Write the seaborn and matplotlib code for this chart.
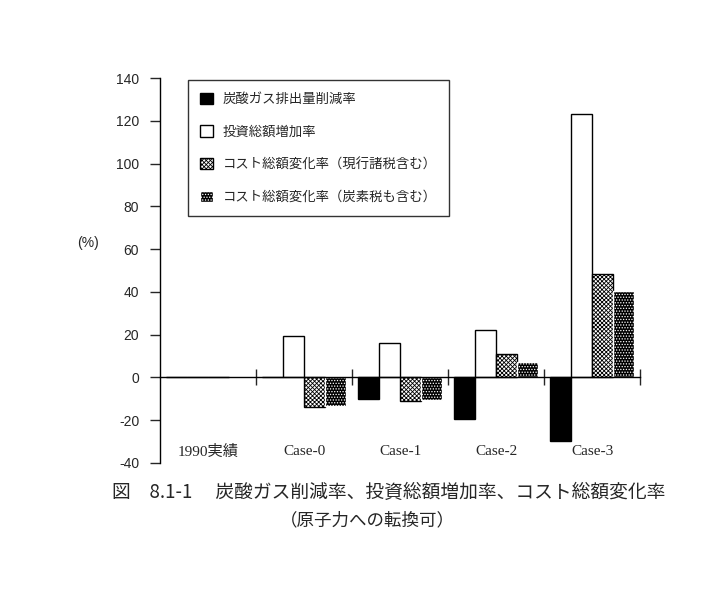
import matplotlib
matplotlib.use("Agg")
import pandas as pd
import seaborn as sns
import matplotlib.pyplot as plt
from matplotlib.patches import Patch

cases = ['1990実績', 'Case-0', 'Case-1', 'Case-2', 'Case-3']
series = ['炭酸ガス排出量削減率', '投資総額増加率',
          'コスト総額変化率（現行諸税含む）', 'コスト総額変化率（炭素税も含む）']
co2 = [0, 0, -10.3, -19.5, -29.8]
invest = [0, 19.6, 15.9, 22.0, 123.4]
cost_now = [0, -14.0, -11.0, 10.8, 48.2]
cost_carbon = [0, -13.5, -10.6, 7.0, 40.2]

value = []
label = []
case = []
for name, vals in zip(series, [co2, invest, cost_now, cost_carbon]):
    for c, v in zip(cases, vals):
        value.append(v)
        label.append(name)
        case.append(c)
data = pd.DataFrame({'case': case, 'label': label, 'value': value})

sns.set_style('white')
plt.rcParams['font.family'] = ['Noto Sans CJK JP', 'DejaVu Sans']
plt.rcParams['hatch.linewidth'] = 0.6
plt.rcParams['axes.unicode_minus'] = False

fig = plt.figure(figsize=(7.23, 5.91), dpi=100)
ax = fig.add_axes([160 / 723, 128 / 591, 480 / 723, 385 / 591])

bars = sns.barplot(data=data, x='case', y='value', hue='label', order=cases,
                   hue_order=series, width=0.88, gap=0, ax=ax,
                   palette=['black', 'white', 'white', 'black'],
                   edgecolor='black', linewidth=1, legend=False)

styles = [('black', 'black', ''), ('white', 'black', ''),
          ('white', 'black', 'xxxxxxxx'), ('black', 'white', '......')]
n = len(cases)
for i, bar in enumerate(bars.patches[:n * len(series)]):
    fc, ec, h = styles[i // n]
    bar.set_facecolor(fc)
    bar.set_edgecolor(ec)
    bar.set_hatch(h)

ax.set_xlim(-0.5, 4.5)
ax.set_ylim(-40, 140)
ax.set_yticks(range(-40, 141, 20))
ax.set_xticks([0.5, 1.5, 2.5, 3.5, 4.5])
ax.set_xticklabels([])
ax.tick_params(axis='x', direction='inout', length=12, width=1, bottom=True)
ax.tick_params(axis='y', direction='out', length=7, width=1, left=True,
               labelsize=10, pad=8)
for t in ax.get_yticklabels():
    t.set_fontfamily('Liberation Sans')
ax.spines['bottom'].set_position(('data', 0))
ax.spines['top'].set_visible(False)
ax.spines['right'].set_visible(False)
for s in ['left', 'bottom']:
    ax.spines[s].set_color('black')
    ax.spines[s].set_linewidth(1)

for i, c in enumerate(cases):
    ax.text(i, 0.029, c, transform=ax.get_xaxis_transform(), ha='center',
            va='center', fontsize=11,
            family=['Liberation Serif', 'Noto Sans CJK JP'])

ax.set_xlabel('')
ax.set_ylabel('(%)', rotation=0, fontsize=10, family='Liberation Sans')
ax.yaxis.set_label_coords(-0.15, 0.553)

handles = [Patch(facecolor=fc, edgecolor=ec, hatch=h) for fc, ec, h in styles]
leg = ax.legend(handles, series, loc='upper left', bbox_to_anchor=(0.058, 0.995),
                borderaxespad=0, frameon=True, fancybox=False, fontsize=9.6,
                handlelength=0.95, handleheight=0.95, labelspacing=1.4,
                borderpad=0.9, handletextpad=0.75)
leg.get_frame().set_edgecolor('black')
leg.get_frame().set_linewidth(1)

fig.text(0.538, 0.166, '図　8.1-1　 炭酸ガス削減率、投資総額増加率、コスト総額変化率',
         ha='center', va='center', fontsize=13.5)
fig.text(0.508, 0.12, '（原子力への転換可）', ha='center', va='center', fontsize=12.6)

plt.savefig('out.png', dpi=100)
